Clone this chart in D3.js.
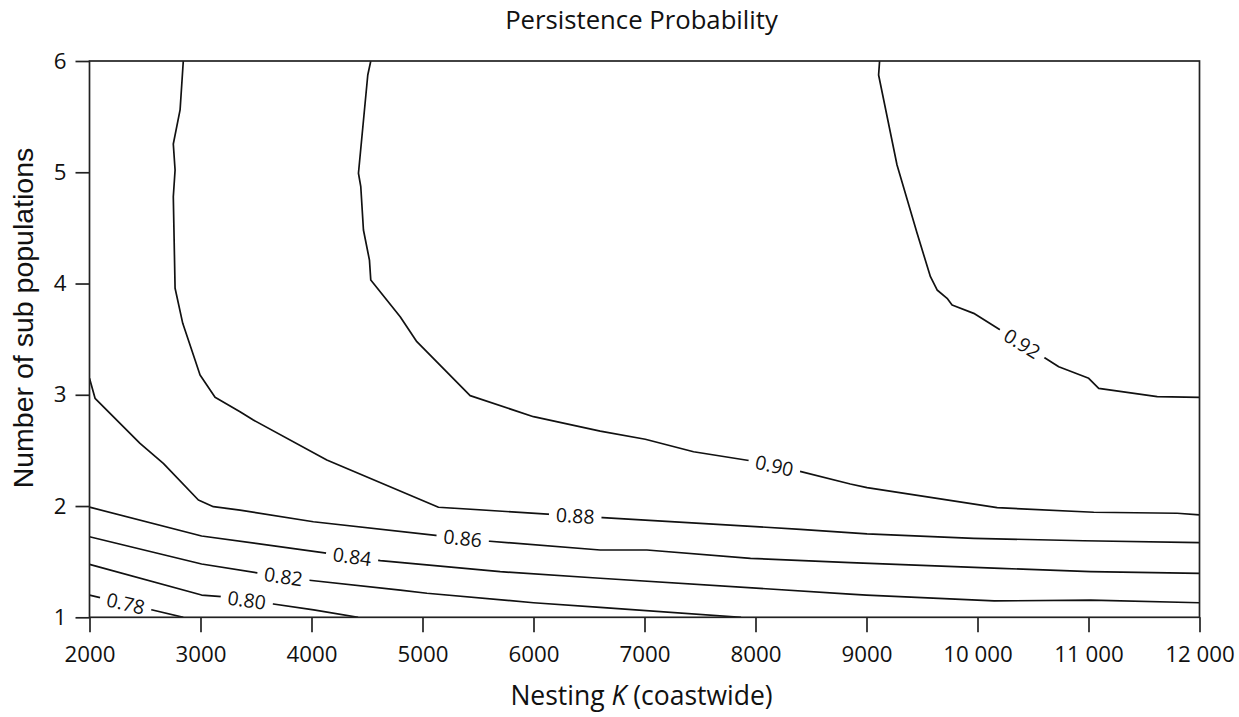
<!DOCTYPE html>
<html><head><meta charset="utf-8">
<script src="https://cdn.jsdelivr.net/npm/d3@7"></script>
<style>body{margin:0;background:#fff}</style>
</head><body><svg id="c" width="1239" height="717"></svg>
<script>
// ---- data ----
const xTicks = [2000,3000,4000,5000,6000,7000,8000,9000,10000,11000,12000];
const xTickLabels = ["2000","3000","4000","5000","6000","7000","8000","9000","10 000","11 000","12 000"];
const yTicks = [1,2,3,4,5,6];
const yTickLabels = ["1","2","3","4","5","6"];
const levels = [0.78,0.80,0.82,0.84,0.86,0.88,0.90,0.92];
const levelLabels = ["0.78","0.80","0.82","0.84","0.86","0.88","0.90","0.92"];
const c078 = [[2000,1.200],[2530,1.075],[2845,1.0]];
const c080 = [[2000,1.476],[3010,1.200],[3190,1.185],[3610,1.126],[4020,1.066],[4420,1.0]];
const c082 = [[2000,1.724],[3010,1.479],[3540,1.395],[3960,1.335],[4800,1.245],[5040,1.216],[6000,1.131],[6600,1.090],[7870,1.0]];
const c084 = [[2000,1.99],[3010,1.731],[4150,1.575],[4620,1.509],[5700,1.410],[6600,1.351],[8850,1.209],[9000,1.200],[10150,1.147],[11020,1.155],[12000,1.131]];
const c086 = [[2000,3.148],[2050,2.968],[2455,2.564],[2665,2.384],[2981,2.054],[3116,1.994],[3356,1.964],[4017,1.859],[5159,1.731],[5580,1.686],[6601,1.605],[7022,1.605],[7955,1.530],[8854,1.491],[10206,1.440],[11018,1.410],[12000,1.395]];
const c088 = [[2845,6.0],[2816,5.56],[2755,5.254],[2771,5.02],[2755,4.78],[2771,3.957],[2840,3.642],[2951,3.313],[2996,3.178],[3131,2.977],[3356,2.848],[3476,2.773],[4138,2.414],[5144,1.989],[6586,1.899],[8404,1.791],[9005,1.749],[9966,1.710],[10957,1.688],[12000,1.671]];
const c090 = [[4534,6.0],[4507,5.874],[4423,4.991],[4444,4.870],[4468,4.481],[4522,4.211],[4534,4.031],[4799,3.702],[4949,3.477],[5429,2.992],[6000,2.803],[6601,2.674],[7007,2.600],[7442,2.488],[7968,2.405],[8374,2.318],[8854,2.198],[9005,2.165],[10177,1.985],[11047,1.944],[11799,1.935],[12000,1.920]];
const c092 = [[9118,6.0],[9109,5.874],[9275,5.065],[9456,4.451],[9576,4.061],[9636,3.942],[9726,3.867],[9771,3.807],[9966,3.732],[10206,3.582],[10612,3.328],[10732,3.252],[11002,3.148],[11092,3.058],[11619,2.983],[12000,2.977]];
const contours = [c078,c080,c082,c084,c086,c088,c090,c092];
const labelK = [2326,3417,3747,4366,5362,6376,8170,10402];

// ---- chart ----
const svg = d3.select("#c");
const sans = '"Open Sans","Noto Sans",sans-serif';
const x = d3.scaleLinear().domain([2000,12000]).range([89.5,1199.5]);
const y = d3.scaleLinear().domain([1,6]).range([617.3,61]);

svg.append("defs").append("clipPath").attr("id","pa").append("rect")
  .attr("x",x(2000)).attr("y",y(6)).attr("width",x(12000)-x(2000)).attr("height",y(1)-y(6));

const line = d3.line().x(d=>x(d[0])).y(d=>y(d[1]));
const gl = svg.append("g").attr("clip-path","url(#pa)");
contours.forEach(c=>{
  gl.append("path").attr("d",line(c)).attr("fill","none").attr("stroke","#111").attr("stroke-width",1.7).attr("stroke-linejoin","round");
});

// labels
function yAt(pts, px){
  for(let i=0;i<pts.length-1;i++){
    const a=pts[i], b=pts[i+1];
    if((a[0]-px)*(b[0]-px)<=0 && a[0]!==b[0]){
      return a[1]+(px-a[0])/(b[0]-a[0])*(b[1]-a[1]);
    }
  }
  return null;
}
contours.forEach((c,i)=>{
  const pts = c.map(d=>[x(d[0]),y(d[1])]);
  const px = x(labelK[i]);
  const py = yAt(pts,px);
  const y1 = yAt(pts,px-16), y2 = yAt(pts,px+16);
  const ang = Math.atan2(y2-y1,32)*180/Math.PI;
  const g = svg.append("g").attr("transform",`translate(${px},${py}) rotate(${ang})`);
  const r = g.append("rect").attr("fill","#fff");
  const t = g.append("text").attr("text-anchor","middle").attr("dy","0.36em")
    .attr("font-family",sans).attr("font-size",19.5).attr("fill","#111").text(levelLabels[i]);
  const w = t.node().getComputedTextLength();
  r.attr("x",-w/2-7).attr("y",-7).attr("width",w+14).attr("height",14);
});

// frame
svg.append("rect").attr("x",x(2000)).attr("y",y(6)).attr("width",x(12000)-x(2000)).attr("height",y(1)-y(6))
  .attr("fill","none").attr("stroke","#222").attr("stroke-width",1.7);

// axes
const ax = svg.append("g").attr("transform",`translate(0,${y(1)})`)
  .call(d3.axisBottom(x).tickValues(xTicks).tickFormat((d,i)=>xTickLabels[i]).tickSize(15).tickPadding(14).tickSizeOuter(0));
const ay = svg.append("g").attr("transform",`translate(${x(2000)},0)`)
  .call(d3.axisLeft(y).tickValues(yTicks).tickFormat((d,i)=>yTickLabels[i]).tickSize(14).tickPadding(9).tickSizeOuter(0));
[ax,ay].forEach(a=>{
  a.select(".domain").remove();
  a.selectAll(".tick line").attr("stroke","#222").attr("stroke-width",1.7);
  a.selectAll(".tick text").attr("font-family",sans).attr("font-size",22.3).attr("fill","#111");
});

// titles
svg.append("text").attr("x",641.5).attr("y",29.3).attr("text-anchor","middle")
  .attr("font-family",sans).attr("font-size",25.7).attr("fill","#111").text("Persistence Probability");
const xl = svg.append("text").attr("x",641.5).attr("y",705).attr("text-anchor","middle")
  .attr("font-family",sans).attr("font-size",26.5).attr("fill","#111");
xl.append("tspan").text("Nesting ");
xl.append("tspan").attr("font-style","italic").text("K");
xl.append("tspan").text(" (coastwide)");
svg.append("text").attr("transform","translate(33,318) rotate(-90)").attr("text-anchor","middle")
  .attr("font-family",'"Liberation Sans",Arial,sans-serif').attr("font-size",28.5).attr("fill","#111")
  .text("Number of sub populations");
</script></body></html>
